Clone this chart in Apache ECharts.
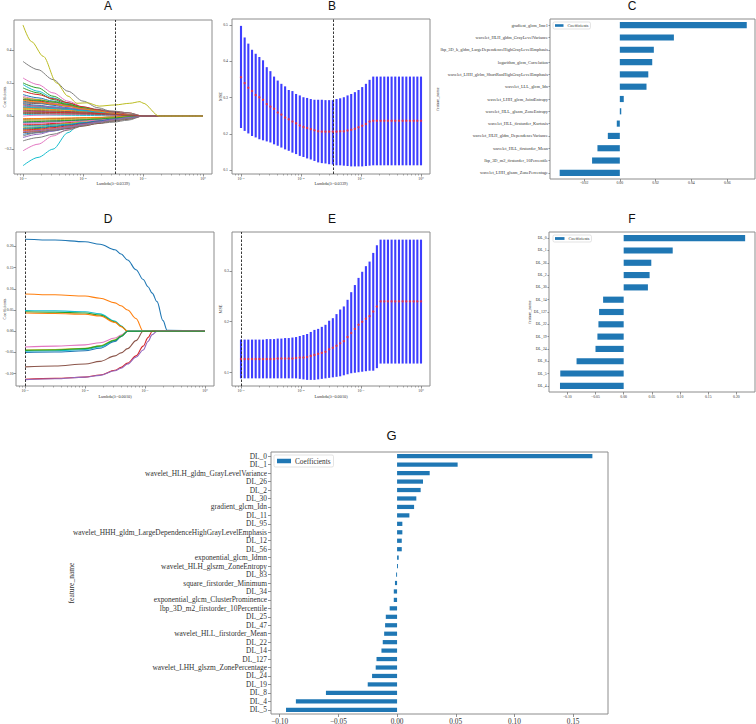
<!DOCTYPE html>
<html>
<head>
<meta charset="utf-8">
<script src="https://cdn.jsdelivr.net/npm/echarts@6.0.0/dist/echarts.min.js"></script>
<style>
html,body{margin:0;padding:0;background:#ffffff;}
#chart{width:756px;height:724px;}
</style>
</head>
<body>
<div id="chart"></div>
<script>
// ================= DATA =================
// shared lambda path (log10 lambda), 50 points
const logLambdaPath = [-3.000,-2.939,-2.878,-2.816,-2.755,-2.694,-2.633,-2.571,-2.510,-2.449,-2.388,-2.327,-2.265,-2.204,-2.143,-2.082,-2.020,-1.959,-1.898,-1.837,-1.776,-1.714,-1.653,-1.592,-1.531,-1.469,-1.408,-1.347,-1.286,-1.224,-1.163,-1.102,-1.041,-0.980,-0.918,-0.857,-0.796,-0.735,-0.673,-0.612,-0.551,-0.490,-0.429,-0.367,-0.306,-0.245,-0.184,-0.122,-0.061,0.000];
const lambdaTickExp = [-3,-2,-1,0];
const lambdaRad = 0.0339;
const lambdaDL = 0.0010;
const lambdaNameRad = 'Lambda(λ=0.0339)';
const lambdaNameDL = 'Lambda(λ=0.0010)';

// Panel A: LASSO coefficient paths (radiomics)
const aLogLambda = [-3,-2.75,-2.5,-2.25,-2,-1.75,-1.5,-1.25,-1,0];
const aCoefPaths = [
 [0.13,0.11,0.09,0.07,0.05,0.035,0.02,0.008,0,0],
 [0.07,0.06,0.05,0.04,0.03,0.02,0.012,0.005,0,0],
 [0.20,0.17,0.12,0.08,0.05,0.03,0.015,0.006,0,0],
 [0.05,0.05,0.045,0.04,0.035,0.03,0.028,0.02,0,0],
 [0.11,0.09,0.075,0.06,0.045,0.03,0.018,0.007,0,0],
 [-0.06,-0.055,-0.05,-0.045,-0.04,-0.035,-0.03,-0.02,0,0],
 [0.23,0.19,0.14,0.09,0.055,0.03,0.015,0.005,0,0],
 [0.33,0.28,0.22,0.15,0.09,0.05,0.025,0.01,0,0],
 [0.045,0.04,0.035,0.03,0.025,0.02,0.013,0.005,0,0],
 [-0.30,-0.25,-0.20,-0.10,-0.025,-0.01,-0.005,-0.002,0,0],
 [-0.11,-0.10,-0.09,-0.075,-0.055,-0.035,-0.02,-0.008,0,0],
 [-0.09,-0.085,-0.075,-0.065,-0.05,-0.035,-0.022,-0.01,0,0],
 [0.17,0.14,0.10,0.07,0.045,0.025,0.012,0.004,0,0],
 [-0.05,-0.05,-0.045,-0.04,-0.03,-0.02,-0.012,-0.005,0,0],
 [-0.13,-0.11,-0.09,-0.07,-0.05,-0.03,-0.015,-0.005,0,0],
 [0.08,0.075,0.07,0.065,0.055,0.04,0.025,0.01,0,0],
 [-0.21,-0.17,-0.12,-0.08,-0.05,-0.03,-0.015,-0.005,0,0],
 [-0.15,-0.13,-0.11,-0.085,-0.06,-0.045,-0.037,-0.025,0,0],
 [0.04,0.035,0.03,0.025,0.02,0.015,0.01,0.005,0,0],
 [0.19,0.15,0.11,0.075,0.045,0.025,0.012,0.004,0,0],
 [0.09,0.08,0.065,0.05,0.035,0.022,0.012,0.005,0,0],
 [-0.10,-0.09,-0.08,-0.065,-0.05,-0.035,-0.02,-0.008,0,0],
 [0.02,0.02,0.02,0.018,0.016,0.014,0.012,0.006,0,0],
 [0.10,0.09,0.08,0.065,0.05,0.035,0.022,0.01,0,0],
 [-0.03,-0.03,-0.028,-0.025,-0.022,-0.018,-0.013,-0.006,0,0],
 [-0.10,-0.095,-0.085,-0.075,-0.06,-0.045,-0.03,-0.015,0,0],
 [0.12,0.10,0.08,0.06,0.04,0.025,0.013,0.005,0,0],
 [0.06,0.055,0.05,0.045,0.04,0.035,0.03,0.02,0,0],
 [-0.07,-0.065,-0.055,-0.045,-0.035,-0.025,-0.015,-0.006,0,0],
 [0.01,0.008,0.006,0.005,0.004,0.003,0.002,0.001,0,0],
 [-0.04,-0.04,-0.035,-0.03,-0.025,-0.02,-0.012,-0.005,0,0],
 [0.05,0.045,0.04,0.035,0.03,0.022,0.014,0.006,0,0],
 [-0.08,-0.075,-0.065,-0.055,-0.045,-0.033,-0.02,-0.008,0,0],
 [0.15,0.13,0.105,0.08,0.055,0.035,0.018,0.006,0,0],
 [0.03,0.028,0.025,0.022,0.018,0.014,0.01,0.005,0,0],
 [-0.02,-0.018,-0.016,-0.014,-0.012,-0.01,-0.007,-0.003,0,0],
 [0,0.005,0.008,0.01,0.01,0.008,0.005,0.002,0,0],
 [-0.12,-0.10,-0.085,-0.07,-0.055,-0.04,-0.03,-0.015,0,0],
 [0.11,0.10,0.085,0.07,0.05,0.03,0.015,0.005,0,0],
 [-0.06,-0.06,-0.055,-0.05,-0.04,-0.03,-0.02,-0.008,0,0],
 [0.075,0.065,0.055,0.045,0.035,0.025,0.015,0.006,0,0],
 [-0.015,-0.015,-0.013,-0.012,-0.01,-0.008,-0.005,-0.002,0,0],
 [0.10,0.095,0.085,0.07,0.05,0.03,0.015,0.005,0,0],
 [-0.085,-0.08,-0.07,-0.06,-0.045,-0.03,-0.018,-0.007,0,0],
 [0.065,0.06,0.055,0.048,0.04,0.03,0.02,0.008,0,0],
 [0.035,0.032,0.03,0.027,0.024,0.02,0.015,0.007,0,0],
 [-0.045,-0.042,-0.038,-0.034,-0.03,-0.024,-0.016,-0.007,0,0],
 [0.085,0.08,0.07,0.06,0.045,0.03,0.018,0.007,0,0],
 [-0.025,-0.024,-0.022,-0.02,-0.018,-0.015,-0.01,-0.004,0,0],
 [0.055,0.05,0.045,0.04,0.032,0.024,0.015,0.006,0,0],
 [-0.075,-0.07,-0.062,-0.053,-0.042,-0.03,-0.018,-0.007,0,0],
 [0.095,0.085,0.072,0.058,0.043,0.03,0.017,0.006,0,0],
 [-0.035,-0.033,-0.03,-0.027,-0.023,-0.018,-0.012,-0.005,0,0],
 [0.025,0.024,0.022,0.02,0.018,0.015,0.011,0.005,0,0],
 [-0.095,-0.088,-0.078,-0.065,-0.05,-0.036,-0.022,-0.009,0,0],
 [0.015,0.015,0.014,0.013,0.012,0.01,0.007,0.003,0,0]
];
const aLeadLogLambda = [-3,-2.86,-2.66,-2.44,-2.25,-2.1,-1.93,-1.73,-1.47,-1.22,-1.05,-1.0,-0.73,0];
const aLeadCoef = [0.55,0.45,0.36,0.20,0.12,0.077,0.08,0.06,0.067,0.077,0.087,0.078,0,0];
const aYTicks = [-0.2,0,0.2,0.4];

// Panel B: cross-validated MSE (radiomics)
const bMean  = [0.356,0.340,0.327,0.318,0.307,0.301,0.294,0.282,0.275,0.269,0.259,0.253,0.245,0.240,0.234,0.229,0.223,0.219,0.216,0.213,0.210,0.207,0.206,0.206,0.206,0.206,0.206,0.207,0.207,0.209,0.211,0.214,0.218,0.222,0.227,0.234,0.236,0.236,0.236,0.236,0.236,0.236,0.236,0.236,0.236,0.236,0.236,0.236,0.236,0.236];
const bLower = [0.216,0.208,0.201,0.194,0.190,0.185,0.182,0.179,0.176,0.171,0.167,0.162,0.157,0.153,0.148,0.144,0.139,0.136,0.132,0.129,0.125,0.121,0.119,0.118,0.116,0.115,0.113,0.113,0.112,0.111,0.110,0.110,0.110,0.110,0.111,0.112,0.113,0.113,0.113,0.113,0.113,0.113,0.113,0.113,0.113,0.113,0.113,0.113,0.113,0.113];
const bUpper = [0.498,0.466,0.449,0.432,0.421,0.412,0.403,0.384,0.373,0.358,0.347,0.338,0.331,0.321,0.318,0.310,0.306,0.301,0.299,0.296,0.294,0.294,0.294,0.293,0.293,0.293,0.296,0.298,0.301,0.306,0.310,0.315,0.321,0.329,0.338,0.349,0.358,0.358,0.358,0.358,0.358,0.358,0.358,0.358,0.358,0.358,0.358,0.358,0.358,0.358];
const bYTicks = [0.1,0.2,0.3,0.4,0.5];

// Panel C: radiomics coefficients
const cFeatures = ['gradient_glcm_Imc1','wavelet_HLH_gldm_GrayLevelVariance','lbp_3D_k_gldm_LargeDependenceHighGrayLevelEmphasis','logarithm_glcm_Correlation','wavelet_LHH_glrlm_ShortRunHighGrayLevelEmphasis','wavelet_LLL_glcm_Idn','wavelet_LHH_glcm_JointEntropy','wavelet_HLL_glszm_ZoneEntropy','wavelet_HLL_firstorder_Kurtosis','wavelet_HLH_gldm_DependenceVariance','wavelet_HLL_firstorder_Mean','lbp_3D_m2_firstorder_10Percentile','wavelet_LHH_glszm_ZonePercentage'];
const cValues = [0.0709,0.0302,0.0190,0.0181,0.0159,0.0149,0.0022,0.0008,-0.0017,-0.0067,-0.0125,-0.0155,-0.0336];
const cXTicks = [-0.02,0,0.02,0.04,0.06];

// Panel D: LASSO coefficient paths (deep learning)
const dLogLambda = [-3,-2.5,-2,-1.75,-1.5,-1.4,-1.29,-1.15,-1.03,-0.95,-0.88,-0.8,-0.7,-0.63,0];
const dNames = ['DL_0','DL_1','DL_26','DL_2','DL_30','DL_14','DL_127','DL_19','DL_24','DL_8','DL_5','DL_4','DL_22'];
const dCoefPaths = [
 [0.217,0.215,0.211,0.205,0.192,0.182,0.168,0.145,0.122,0.105,0.090,0.070,0.025,0.002,0],
 [0.088,0.086,0.083,0.078,0.067,0.060,0.050,0.030,0,0,0,0,0,0,0],
 [0.049,0.048,0.046,0.041,0.024,0.013,0,0,0,0,0,0,0,0,0],
 [0.046,0.045,0.043,0.038,0.022,0.012,0,0,0,0,0,0,0,0,0],
 [0.043,0.042,0.040,0.036,0.021,0.011,0,0,0,0,0,0,0,0,0],
 [-0.037,-0.035,-0.032,-0.027,-0.016,-0.009,0,0,0,0,0,0,0,0,0],
 [-0.044,-0.043,-0.040,-0.034,-0.020,-0.011,0,0,0,0,0,0,0,0,0],
 [-0.047,-0.046,-0.043,-0.037,-0.022,-0.012,0,0,0,0,0,0,0,0,0],
 [-0.050,-0.049,-0.046,-0.040,-0.024,-0.013,0,0,0,0,0,0,0,0,0],
 [-0.084,-0.082,-0.077,-0.071,-0.058,-0.051,-0.041,-0.022,0,0,0,0,0,0,0],
 [-0.113,-0.111,-0.108,-0.103,-0.092,-0.085,-0.075,-0.058,-0.035,-0.015,0,0,0,0,0],
 [-0.114,-0.112,-0.108,-0.104,-0.093,-0.087,-0.077,-0.061,-0.044,-0.024,-0.008,0,0,0,0],
 [-0.045,-0.044,-0.041,-0.035,-0.021,-0.012,0,0,0,0,0,0,0,0,0]
];
const dYTicks = [-0.10,-0.05,0,0.05,0.10,0.15,0.20];

// Panel E: cross-validated MSE (deep learning)
const eMean  = [0.127,0.127,0.127,0.127,0.127,0.127,0.127,0.127,0.127,0.127,0.128,0.128,0.128,0.128,0.128,0.129,0.130,0.130,0.131,0.133,0.135,0.137,0.139,0.141,0.146,0.149,0.153,0.158,0.162,0.170,0.178,0.186,0.194,0.200,0.206,0.211,0.220,0.230,0.240,0.240,0.240,0.240,0.240,0.240,0.240,0.240,0.240,0.240,0.240,0.240];
const eLower = [0.089,0.089,0.089,0.089,0.089,0.089,0.089,0.089,0.089,0.089,0.089,0.089,0.089,0.089,0.089,0.089,0.088,0.087,0.086,0.086,0.086,0.087,0.088,0.089,0.090,0.091,0.092,0.093,0.095,0.097,0.099,0.100,0.101,0.102,0.103,0.104,0.104,0.109,0.118,0.118,0.118,0.118,0.118,0.118,0.118,0.118,0.118,0.118,0.118,0.118];
const eUpper = [0.165,0.165,0.165,0.165,0.165,0.165,0.165,0.166,0.166,0.166,0.167,0.167,0.168,0.168,0.169,0.170,0.172,0.174,0.176,0.180,0.184,0.186,0.190,0.194,0.202,0.207,0.215,0.224,0.230,0.243,0.258,0.272,0.286,0.298,0.309,0.318,0.335,0.350,0.361,0.361,0.361,0.361,0.361,0.361,0.361,0.361,0.361,0.361,0.361,0.361];
const eYTicks = [0.1,0.2,0.3];

// Panel F: deep learning coefficients
const fFeatures = ['DL_0','DL_1','DL_26','DL_2','DL_30','DL_14','DL_127','DL_22','DL_19','DL_24','DL_8','DL_5','DL_4'];
const fValues = [0.2155,0.087,0.049,0.046,0.043,-0.0365,-0.0436,-0.0448,-0.0466,-0.050,-0.0836,-0.1125,-0.113];
const fXTicks = [-0.10,-0.05,0,0.05,0.10,0.15,0.20];

// Panel G: combined coefficients
const gFeatures = ['DL_0','DL_1','wavelet_HLH_gldm_GrayLevelVariance','DL_26','DL_2','DL_30','gradient_glcm_Idn','DL_11','DL_95','wavelet_HHH_gldm_LargeDependenceHighGrayLevelEmphasis','DL_12','DL_56','exponential_glcm_Idmn','wavelet_HLH_glszm_ZoneEntropy','DL_83','square_firstorder_Minimum','DL_34','exponential_glcm_ClusterProminence','lbp_3D_m2_firstorder_10Percentile','DL_25','DL_47','wavelet_HLL_firstorder_Mean','DL_22','DL_14','DL_127','wavelet_LHH_glszm_ZonePercentage','DL_24','DL_19','DL_8','DL_4','DL_5'];
const gValues = [0.1664,0.0516,0.0278,0.0221,0.0201,0.0164,0.0145,0.0105,0.0045,0.0045,0.0040,0.0040,0.0014,0.0008,-0.0008,-0.0018,-0.0028,-0.0028,-0.0063,-0.0096,-0.0102,-0.0110,-0.0122,-0.0133,-0.0175,-0.0182,-0.0213,-0.0250,-0.0606,-0.0862,-0.0946];
const gXTicks = [-0.10,-0.05,0,0.05,0.10,0.15];

// ================= STYLE / HELPERS =================
const SERIF = "'Liberation Serif','DejaVu Serif',serif";
const SANS = "'Liberation Sans','DejaVu Sans',sans-serif";
const FRAME = '#8c8c8c';
const TICK = '#777';
const LABEL = '#333';
const BAR = '#1f77b4';
const TAB10 = ['#1f77b4','#ff7f0e','#2ca02c','#d62728','#9467bd','#8c564b','#e377c2','#7f7f7f','#bcbd22','#17becf'];
const dColors = ['#1f77b4','#ff7f0e','#17becf','#2ca02c','#ff7f0e','#e377c2','#bcbd22','#17becf','#1f77b4','#8c564b','#d62728','#9467bd','#2ca02c'];

const supMap = {'-':'⁻','0':'⁰','1':'¹','2':'²','3':'³'};
const lamLabel = v => '10' + String(Math.round(v)).split('').map(c => supMap[c] || c).join('');
const fmt = d => v => { const r = Math.abs(v) < 1e-9 ? 0 : v; return (r < 0 ? '−' : '') + Math.abs(r).toFixed(d); };

const minorLambdaTicks = [];
for (let d = -4; d <= 0; d++) for (let k = 2; k <= 9; k++) { const p = d + Math.log10(k); if (p > -3.15 && p < 0.15) minorLambdaTicks.push(p); }

function mkGrid(left, top, width, height) {
  return {left, top, width, height, show: true, borderColor: FRAME, borderWidth: 1, backgroundColor: '#fff', containLabel: false, outerBoundsMode: 'none'};
}
function lamAxis(gridIndex, name, gap) {
  return {type: 'value', gridIndex, min: -3.15, max: 0.15, position: 'bottom',
    axisLine: {show: false, onZero: false}, splitLine: {show: false},
    axisTick: {show: true, customValues: lambdaTickExp, length: 2.5, lineStyle: {color: TICK, width: 0.8}},
    axisLabel: {show: true, customValues: lambdaTickExp, formatter: lamLabel, fontSize: 3.8, fontFamily: SERIF, color: LABEL, margin: 3},
    name, nameLocation: 'middle', nameGap: gap, nameMoveOverlap: false, nameTextStyle: {fontSize: 4.3, fontFamily: SERIF, color: LABEL}};
}
function lamMinorAxis(gridIndex) {
  return {type: 'value', gridIndex, min: -3.15, max: 0.15, position: 'bottom',
    axisLine: {show: false, onZero: false}, splitLine: {show: false}, axisLabel: {show: false},
    axisTick: {show: true, customValues: minorLambdaTicks, length: 1.5, lineStyle: {color: TICK, width: 0.6}}};
}
function valAxis(gridIndex, min, max, ticks, dec, opts) {
  const o = Object.assign({fontSize: 3.8, margin: 2.5, name: '', gap: 8, nameSize: 4.3, position: null}, opts || {});
  const ax = {type: 'value', gridIndex, min, max,
    axisLine: {show: false, onZero: false}, splitLine: {show: false},
    axisTick: {show: true, customValues: ticks, length: o.tickLen || 2.5, lineStyle: {color: TICK, width: 0.8}},
    axisLabel: {show: true, customValues: ticks, formatter: fmt(dec), fontSize: o.fontSize, fontFamily: SERIF, color: LABEL, margin: o.margin},
    name: o.name, nameLocation: 'middle', nameGap: o.gap, nameMoveOverlap: false, nameTextStyle: {fontSize: o.nameSize, fontFamily: SERIF, color: LABEL}};
  if (o.position) ax.position = o.position;
  return ax;
}
function catAxis(gridIndex, data, opts) {
  return {type: 'category', gridIndex, data, inverse: true,
    axisLine: {show: false, onZero: false}, splitLine: {show: false},
    axisTick: {show: true, alignWithLabel: true, length: opts.tickLen, lineStyle: {color: TICK, width: 0.8}},
    axisLabel: {show: true, interval: 0, fontSize: opts.fontSize, fontFamily: SERIF, color: LABEL, margin: opts.margin},
    name: 'feature_name', nameLocation: 'middle', nameGap: opts.gap, nameMoveOverlap: false, nameTextStyle: {fontSize: opts.nameSize, fontFamily: SERIF, color: LABEL}};
}
function errorBars(xi, yi, lower, upper) {
  return {type: 'custom', xAxisIndex: xi, yAxisIndex: yi, silent: true, clip: true,
    data: logLambdaPath.map((x, i) => [x, lower[i], upper[i]]),
    encode: {x: 0, y: [1, 2]},
    renderItem: (params, api) => {
      const x = api.value(0);
      const p1 = api.coord([x, api.value(1)]);
      const p2 = api.coord([x, api.value(2)]);
      return {type: 'line', shape: {x1: p1[0], y1: p1[1], x2: p2[0], y2: p2[1]}, style: {stroke: 'rgba(20,20,255,0.82)', lineWidth: 2.1}};
    }};
}
function meanDots(xi, yi, mean, lam) {
  return {type: 'scatter', xAxisIndex: xi, yAxisIndex: yi, silent: true, symbol: 'circle', symbolSize: 2.4,
    itemStyle: {color: '#ff2a2a'}, data: logLambdaPath.map((x, i) => [x, mean[i]]), z: 5,
    markLine: {silent: true, symbol: ['none', 'none'], label: {show: false},
      lineStyle: {type: [2.5, 1.5], color: '#222', width: 0.9}, data: [{xAxis: Math.log10(lam)}]}};
}
function vline(xi, yi, lam) {
  return {type: 'line', xAxisIndex: xi, yAxisIndex: yi, data: [], silent: true,
    markLine: {silent: true, symbol: ['none', 'none'], label: {show: false},
      lineStyle: {type: [2.5, 1.5], color: '#222', width: 0.9}, data: [{xAxis: Math.log10(lam)}]}};
}
function legendBox(left, top, size, iw, ih, pad) {
  return {show: true, data: ['Coefficients'], left, top, orient: 'vertical', icon: 'rect',
    itemWidth: iw, itemHeight: ih, itemGap: 2, padding: pad, borderColor: '#d0d0d0', borderWidth: 0.6, borderRadius: 1.5,
    backgroundColor: '#fff', selectedMode: false,
    textStyle: {fontSize: size, fontFamily: SERIF, color: LABEL, padding: [0, 0, 0, -1]}};
}

// ================= OPTION =================
const grids = [
  mkGrid(14, 20, 198, 154),   // A
  mkGrid(232, 19, 198, 155),  // B
  mkGrid(550, 19, 205, 160),  // C
  mkGrid(16, 232, 198, 154),  // D
  mkGrid(232, 232, 198, 154), // E
  mkGrid(549, 232, 206, 160), // F
  mkGrid(271, 452, 337, 262)  // G
];

const xAxes = [
  lamAxis(0, lambdaNameRad, 7.5), lamMinorAxis(0),          // 0,1 A
  lamAxis(1, lambdaNameRad, 7), lamMinorAxis(1),            // 2,3 B
  valAxis(2, -0.039, 0.0755, cXTicks, 2, {margin: 1.8, fontSize: 3.8}), // 4 C
  lamAxis(3, lambdaNameDL, 8.5), lamMinorAxis(3),           // 5,6 D
  lamAxis(4, lambdaNameDL, 8.5), lamMinorAxis(4),           // 7,8 E
  valAxis(5, -0.1325, 0.233, fXTicks, 2, {margin: 2.5, fontSize: 3.8}), // 9 F
  valAxis(6, -0.1074, 0.1797, gXTicks, 2, {margin: 3.5, fontSize: 7.3, tickLen: 3}) // 10 G
];
const yAxes = [
  valAxis(0, -0.35, 0.58, aYTicks, 1, {name: 'Coefficients', gap: 7.5, margin: 2.5}),
  valAxis(1, 0.089, 0.517, bYTicks, 1, {name: 'MSE', gap: 9.5, margin: 4}),
  catAxis(2, cFeatures, {fontSize: 4.4, margin: 2, tickLen: 1.5, gap: 111, nameSize: 4.3}),
  valAxis(3, -0.129, 0.234, dYTicks, 2, {name: 'Coefficients', gap: 9.5, margin: 2.5}),
  valAxis(4, 0.074, 0.376, eYTicks, 1, {name: 'MSE', gap: 9.5, margin: 3}),
  catAxis(5, fFeatures, {fontSize: 3.9, margin: 2.2, tickLen: 1.5, gap: 17.5, nameSize: 4.3}),
  catAxis(6, gFeatures, {fontSize: 7.4, margin: 4, tickLen: 3, gap: 196, nameSize: 7.5})
];

const series = [];
// A paths
aCoefPaths.forEach((path, k) => {
  series.push({type: 'line', xAxisIndex: 0, yAxisIndex: 0, silent: true, showSymbol: false, smooth: 0.3, smoothMonotone: 'x',
    lineStyle: {width: 1, color: TAB10[k % 10]}, data: aLogLambda.map((x, i) => [x, path[i]])});
});
series.push({type: 'line', xAxisIndex: 0, yAxisIndex: 0, silent: true, showSymbol: false, smooth: 0.3, smoothMonotone: 'x',
  lineStyle: {width: 1, color: TAB10[8]}, data: aLeadLogLambda.map((x, i) => [x, aLeadCoef[i]])});
series.push(vline(0, 0, lambdaRad));
// B
series.push(errorBars(2, 1, bLower, bUpper));
series.push(meanDots(2, 1, bMean, lambdaRad));
// C
series.push({type: 'bar', name: 'Coefficients', xAxisIndex: 4, yAxisIndex: 2, barWidth: '50%', silent: true,
  itemStyle: {color: BAR}, data: cValues});
// D
dCoefPaths.forEach((path, k) => {
  series.push({type: 'line', name: dNames[k], xAxisIndex: 5, yAxisIndex: 3, silent: true, showSymbol: false, smooth: 0.35, smoothMonotone: 'x',
    lineStyle: {width: 1.1, color: dColors[k]}, data: dLogLambda.map((x, i) => [x, path[i]])});
});
series.push(vline(5, 3, lambdaDL));
// E
series.push(errorBars(7, 4, eLower, eUpper));
series.push(meanDots(7, 4, eMean, lambdaDL));
// F
series.push({type: 'bar', name: 'Coefficients', xAxisIndex: 9, yAxisIndex: 5, barWidth: '50%', silent: true,
  itemStyle: {color: BAR}, data: fValues});
// G
series.push({type: 'bar', name: 'Coefficients', xAxisIndex: 10, yAxisIndex: 6, barWidth: '50%', silent: true,
  itemStyle: {color: BAR}, data: gValues});

const titleStyle = size => ({fontSize: size, fontFamily: SANS, fontWeight: 'normal', color: '#111'});
const option = {
  animation: false,
  backgroundColor: '#ffffff',
  title: [
    {text: 'A', left: 108, top: 0, textAlign: 'center', padding: 0, textStyle: titleStyle(12)},
    {text: 'B', left: 332, top: 0, textAlign: 'center', padding: 0, textStyle: titleStyle(12)},
    {text: 'C', left: 632, top: 0, textAlign: 'center', padding: 0, textStyle: titleStyle(12)},
    {text: 'D', left: 108, top: 212.5, textAlign: 'center', padding: 0, textStyle: titleStyle(12)},
    {text: 'E', left: 332, top: 212.5, textAlign: 'center', padding: 0, textStyle: titleStyle(12)},
    {text: 'F', left: 632, top: 212.5, textAlign: 'center', padding: 0, textStyle: titleStyle(12)},
    {text: 'G', left: 391.5, top: 429, textAlign: 'center', padding: 0, textStyle: titleStyle(13)}
  ],
  legend: [
    legendBox(553, 22, 4.3, 8.5, 2.6, [1.5, 2, 1.5, 2]),
    legendBox(553, 235, 4.3, 9.5, 2.8, [1.5, 2, 1.5, 2]),
    legendBox(274, 455, 7.3, 14, 4.5, [2.5, 3, 2.5, 3])
  ],
  grid: grids,
  xAxis: xAxes,
  yAxis: yAxes,
  series
};

const chart = echarts.init(document.getElementById('chart'), null, {renderer: 'svg', width: 756, height: 724});
chart.setOption(option);
</script>
</body>
</html>
